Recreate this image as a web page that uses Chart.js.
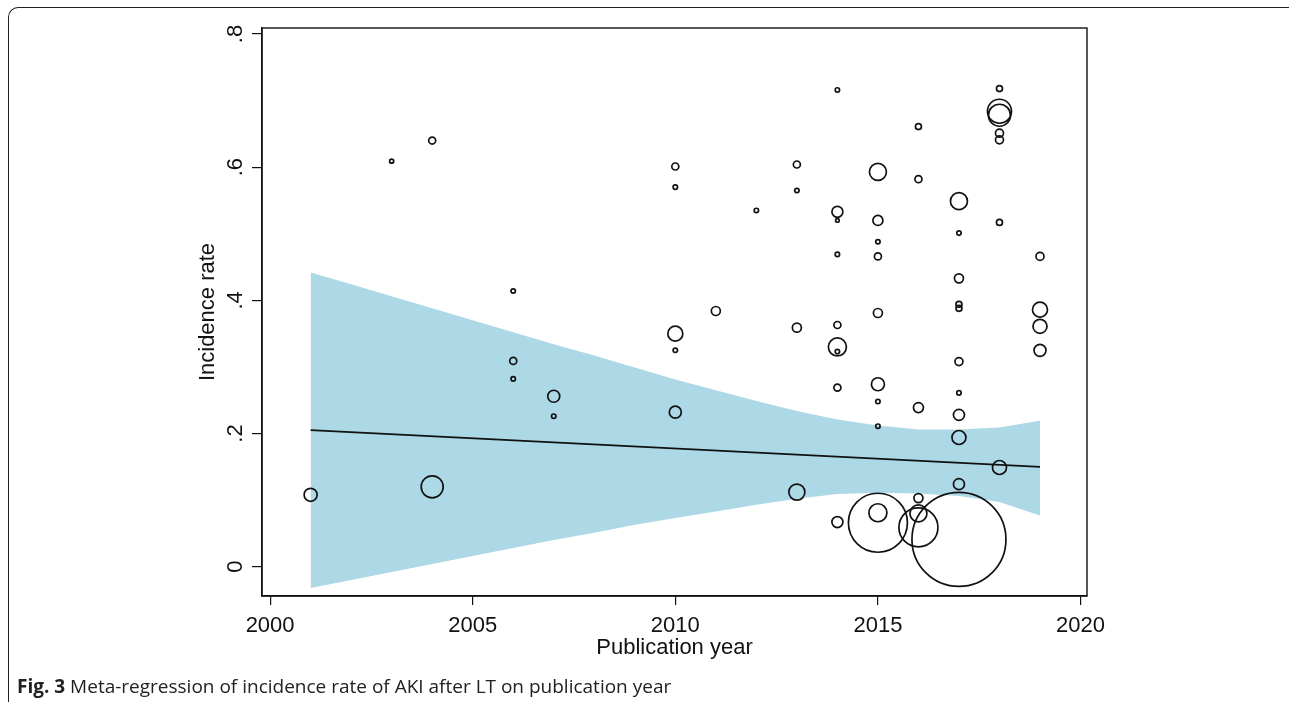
<!DOCTYPE html>
<html>
<head>
<meta charset="utf-8">
<script src="https://cdn.jsdelivr.net/npm/chart.js@4.4.1/dist/chart.umd.min.js"></script>
<style>
    html, body { margin: 0; padding: 0; background: #fff; }
    #wrap { position: relative; width: 1290px; height: 702px; overflow: hidden; }
    #chart { position: absolute; left: 0; top: 0; }
    .frame { position: absolute; left: 8px; top: 7px; width: 1280px; height: 720px;
             border-left: 1.6px solid #222; border-top: 1.6px solid #222; border-top-left-radius: 10px; }
    .caption { position: absolute; left: 17px; top: 673px; font-family: "Open Sans", sans-serif;
               font-size: 19px; color: #222; white-space: nowrap; }
    .caption b { font-weight: 700; }
</style>
</head>
<body>
<div id="wrap">
    <div class="frame"></div>
    <canvas id="chart" width="1290" height="702"></canvas>
    <div class="caption"><b>Fig. 3</b> Meta-regression of incidence rate of AKI after LT on publication year</div>
</div>
<script>
// studies: publication year, incidence rate, marker radius (study weight)
const studyYear = [
    2001, 2003, 2004, 2004, 2006, 2006, 2006, 2007, 2007,
    2010, 2010, 2010, 2010, 2010, 2011, 2012,
    2013, 2013, 2013, 2013,
    2014, 2014, 2014, 2014, 2014, 2014, 2014, 2014, 2014,
    2015, 2015, 2015, 2015, 2015, 2015, 2015, 2015, 2015, 2015,
    2016, 2016, 2016, 2016, 2016, 2016,
    2017, 2017, 2017, 2017, 2017, 2017, 2017, 2017, 2017, 2017, 2017,
    2018, 2018, 2018, 2018, 2018, 2018, 2018,
    2019, 2019, 2019, 2019
];
const incidence = [
    .108, .609, .640, .120, .414, .309, .282, .256, .226,
    .601, .570, .350, .325, .232, .384, .535,
    .604, .565, .359, .112,
    .716, .533, .520, .469, .363, .330, .323, .269, .067,
    .593, .520, .488, .466, .381, .274, .248, .211, .081, .066,
    .661, .582, .239, .103, .080, .059,
    .549, .501, .433, .394, .388, .308, .261, .228, .194, .124, .041,
    .718, .684, .678, .651, .641, .517, .149,
    .466, .386, .361, .325
];
const weight = [
    6.5, 2, 3.5, 11, 2.2, 3.5, 2.2, 6, 2.2,
    3.5, 2.2, 7.5, 2.2, 6, 4.5, 2.2,
    3.5, 2.2, 4.5, 8,
    2.2, 5.5, 1.8, 2.2, 3.5, 9, 2.2, 3.5, 5.5,
    8.5, 5, 2.2, 3.5, 4.5, 6.5, 2.2, 2.2, 9, 29.5,
    3, 3.5, 5, 4.5, 8.5, 19.5,
    8.5, 2.2, 4.5, 3, 3, 4, 2.2, 5.5, 7, 5.5, 47,
    3, 12, 11, 4, 4, 3, 7,
    4, 7.5, 7, 6
];

// fitted line and its confidence band
const fitYears = [2001, 2019];
const fitValues = [0.205, 0.150];
const bandYears = [2001, 2002, 2003, 2004, 2005, 2006, 2007, 2008, 2009, 2010,
                   2011, 2012, 2013, 2014, 2015, 2016, 2017, 2018, 2019];
const bandUpper = [.442, .424, .406, .388, .370, .352, .334, .317, .299, .281,
                   .265, .249, .234, .221, .212, .206, .206, .209, .219];
const bandLower = [-.032, -.020, -.008, .004, .016, .028, .040, .051, .063, .073,
                   .083, .093, .102, .109, .111, .110, .106, .097, .077];

const xTicks = [2000, 2005, 2010, 2015, 2020];
const yTicks = [0, 0.2, 0.4, 0.6, 0.8];
const yTickLabels = ['0', '.2', '.4', '.6', '.8'];

const FONT = '"Liberation Sans", Arial, sans-serif';

// y tick labels are rotated like in the Stata output
const rotatedYLabels = {
    id: 'rotatedYLabels',
    afterDraw(chart) {
        const ctx = chart.ctx;
        const y = chart.scales.y;
        ctx.save();
        ctx.fillStyle = '#111';
        ctx.font = '22px ' + FONT;
        ctx.textAlign = 'center';
        ctx.textBaseline = 'middle';
        yTicks.forEach((v, i) => {
            ctx.save();
            ctx.translate(236, y.getPixelForValue(v));
            ctx.rotate(-Math.PI / 2);
            ctx.fillText(yTickLabels[i], 0, 0);
            ctx.restore();
        });
        ctx.restore();
    }
};

const plotBox = {
    id: 'plotBox',
    afterDatasetsDraw(chart) {
        const { ctx, chartArea: a } = chart;
        ctx.save();
        ctx.strokeStyle = '#111';
        ctx.lineWidth = 1.4;
        ctx.strokeRect(a.left, a.top, a.right - a.left, a.bottom - a.top);
        ctx.restore();
    }
};

const ctx = document.getElementById('chart').getContext('2d');
new Chart(ctx, {
    type: 'bubble',
    data: {
        datasets: [
            {
                label: 'studies',
                data: studyYear.map((yr, i) => ({ x: yr, y: incidence[i], r: weight[i] })),
                backgroundColor: 'transparent',
                borderColor: '#111',
                borderWidth: 1.7,
                hoverRadius: 0,
                order: 0
            },
            {
                type: 'line',
                label: 'fit',
                data: fitYears.map((yr, i) => ({ x: yr, y: fitValues[i] })),
                borderColor: '#111',
                borderWidth: 1.8,
                pointRadius: 0,
                fill: false,
                order: 1
            },
            {
                type: 'line',
                label: 'upper',
                data: bandYears.map((yr, i) => ({ x: yr, y: bandUpper[i] })),
                borderWidth: 0,
                borderColor: 'transparent',
                backgroundColor: '#add8e6',
                pointRadius: 0,
                fill: '+1',
                order: 2
            },
            {
                type: 'line',
                label: 'lower',
                data: bandYears.map((yr, i) => ({ x: yr, y: bandLower[i] })),
                borderWidth: 0,
                borderColor: 'transparent',
                pointRadius: 0,
                fill: false,
                order: 3
            }
        ]
    },
    options: {
        responsive: false,
        animation: false,
        events: [],
        layout: { autoPadding: false, padding: { left: 190, top: 28, right: 203, bottom: 40 } },
        plugins: {
            legend: { display: false },
            tooltip: { enabled: false }
        },
        scales: {
            x: {
                type: 'linear',
                min: 1999.8,
                max: 2020.16,
                afterBuildTicks: (s) => { s.ticks = xTicks.map(v => ({ value: v })); },
                afterFit: (s) => { s.height = 66; },
                border: { color: '#111', width: 1.4 },
                grid: { drawOnChartArea: false, tickLength: 9, color: '#111', lineWidth: 1.2 },
                ticks: {
                    color: '#111',
                    padding: 8,
                    maxRotation: 0,
                    font: { family: FONT, size: 22 },
                    callback: (v) => String(v)
                },
                title: {
                    display: true,
                    text: 'Publication year',
                    color: '#111',
                    font: { family: FONT, size: 22 },
                    padding: { top: 0, bottom: 1 }
                }
            },
            y: {
                type: 'linear',
                min: -0.044,
                max: 0.809,
                afterBuildTicks: (s) => { s.ticks = yTicks.map(v => ({ value: v })); },
                afterFit: (s) => { s.width = 72; },
                border: { color: '#111', width: 1.4 },
                grid: { drawOnChartArea: false, tickLength: 10, color: '#111', lineWidth: 1.2 },
                ticks: { display: false },
                title: {
                    display: true,
                    text: 'Incidence rate',
                    color: '#111',
                    font: { family: FONT, size: 22 },
                    padding: { top: 5, bottom: 0 }
                }
            }
        }
    },
    plugins: [rotatedYLabels, plotBox]
});
</script>
</body>
</html>
